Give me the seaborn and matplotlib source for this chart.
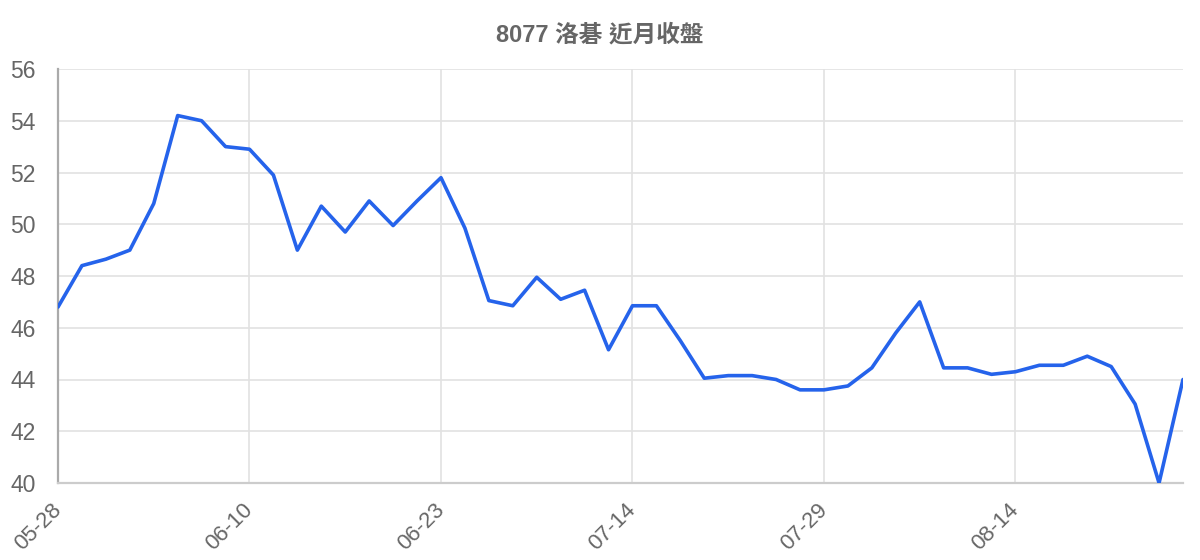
import matplotlib
matplotlib.use("Agg")
import matplotlib.pyplot as plt
import pandas as pd
import seaborn as sns

# data (8077 closing prices, last ~3 months)
dates = [
    "05-28", "05-29", "06-02", "06-03", "06-04", "06-05", "06-06", "06-09",
    "06-10", "06-11", "06-12", "06-13", "06-16", "06-17", "06-18", "06-20",
    "06-23", "06-24", "06-26", "06-30", "07-02", "07-04", "07-08", "07-10",
    "07-14", "07-15", "07-17", "07-18", "07-21", "07-23", "07-24", "07-28",
    "07-29", "07-30", "08-01", "08-04", "08-06", "08-07", "08-11", "08-12",
    "08-14", "08-15", "08-18", "08-19", "08-20", "08-21", "08-22", "08-25",
]
close = [
    46.8, 48.4, 48.65, 49.0, 50.8, 54.2, 54.0, 53.0,
    52.9, 51.9, 49.0, 50.7, 49.7, 50.9, 49.95, 50.9,
    51.8, 49.85, 47.05, 46.85, 47.95, 47.1, 47.45, 45.15,
    46.85, 46.85, 45.5, 44.05, 44.15, 44.15, 44.0, 43.6,
    43.6, 43.75, 44.45, 45.8, 47.0, 44.45, 44.45, 44.2,
    44.3, 44.55, 44.55, 44.9, 44.5, 43.05, 40.0, 44.0,
]
title = "8077 洛碁 近月收盤"
yticks = list(range(40, 57, 2))

df = pd.DataFrame({"idx": range(len(dates)), "date": dates, "close": close})

sns.set_theme(style="white")
plt.rcParams["font.family"] = ["Liberation Sans", "Noto Sans CJK TC", "DejaVu Sans"]

fig = plt.figure(figsize=(12, 5.6), dpi=100)
ax = fig.add_axes([58 / 1200, 1 - 483 / 560, (1183 - 58) / 1200, (483 - 69) / 560])

sns.lineplot(data=df, x="idx", y="close", ax=ax, color="#2563eb",
             linewidth=2.6, zorder=3)

ax.set_xlim(0, len(dates) - 1)
ax.set_ylim(40, 56)
xt = list(range(0, len(dates), 8))
ax.set_xticks(xt)
ax.set_xticklabels([dates[i] for i in xt], rotation=45, ha="right",
                   va="center", rotation_mode="anchor")
ax.set_yticks(yticks)
ax.set_yticklabels([str(v) for v in yticks])
ax.set_xlabel("")
ax.set_ylabel("")

ax.grid(True, color="#e2e2e2", linewidth=1.2)
ax.tick_params(axis="y", length=14, width=1.2, color="#e6e6e6",
               labelsize=16.5, labelcolor="#666666", pad=2)
ax.tick_params(axis="x", length=14, width=1.2, color="#d6d6d6",
               labelsize=16, labelcolor="#666666", pad=3)

for side in ["top", "right"]:
    ax.spines[side].set_visible(False)
ax.spines["left"].set_color("#aaaaaa")
ax.spines["left"].set_linewidth(1.6)
ax.spines["bottom"].set_color("#cccccc")
ax.spines["bottom"].set_linewidth(1.6)

fig.text(0.5, 1 - 35 / 560, title, ha="center", va="center",
         fontsize=17, fontweight="bold", color="#666666")

fig.savefig("out.png", dpi=100)
